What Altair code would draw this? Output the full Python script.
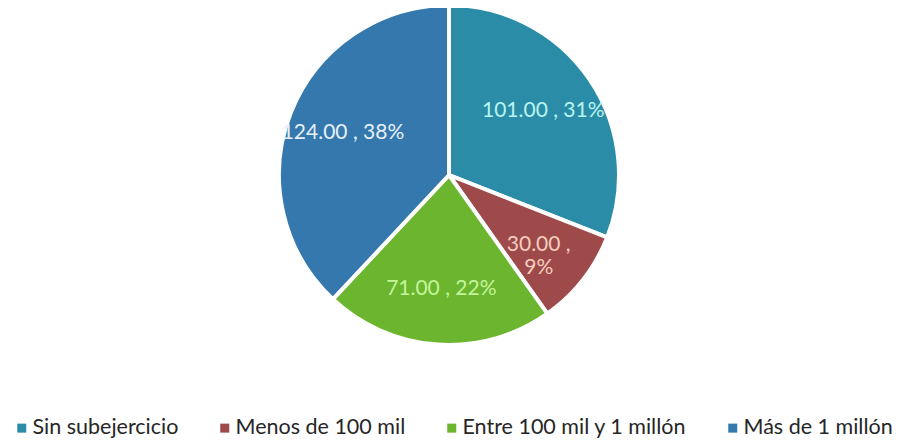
import altair as alt
import pandas as pd

categories = ["Sin subejercicio", "Menos de 100 mil", "Entre 100 mil y 1 millón", "Más de 1 millón"]
values = [101.00, 30.00, 71.00, 124.00]
percents = [31, 9, 22, 38]
slice_colors = ["#2b8ca7", "#9e4a4b", "#6bb52f", "#3478ad"]
label_colors = ["#b8f4f0", "#f6cdbd", "#c4f59a", "#e6f0fa"]

labels = []
for c, v, p in zip(categories, values, percents):
    if c == "Menos de 100 mil":
        labels.append(f"{v:.2f} ,\n{p}%")
    else:
        labels.append(f"{v:.2f} , {p}%")

df = pd.DataFrame({
    "cat": categories,
    "val": values,
    "label": labels,
    "ord": list(range(len(categories))),
})

base = alt.Chart(df).encode(
    theta=alt.Theta("val:Q", stack=True),
    order=alt.Order("ord:Q", sort="ascending"),
)

pie = base.mark_arc(outerRadius=170, stroke="white", strokeWidth=4).encode(
    color=alt.Color(
        "cat:N",
        scale=alt.Scale(domain=categories, range=slice_colors),
        sort=categories,
        legend=alt.Legend(
            title=None,
            orient="none",
            legendX=3,
            legendY=409,
            direction="horizontal",
            symbolType="square",
            symbolSize=81,
            symbolStrokeWidth=0,
            symbolOffset=0,
            labelOffset=0,
            labelFont="Lato",
            labelFontSize=21.5,
            labelColor="#262626",
            columnPadding=35,
            labelLimit=400,
        ),
    ),
)

text = base.mark_text(radius=114, fontSize=21, font="Lato", lineBreak="\n").encode(
    text="label:N",
    color=alt.Color(
        "cat:N",
        scale=alt.Scale(domain=categories, range=label_colors),
        legend=None,
    ),
)

chart = (
    alt.layer(pie, text)
    .resolve_scale(color="independent")
    .properties(
        width=882,
        height=334,
        background="white",
        autosize=alt.AutoSizeParams(type="none"),
        padding={"left": 0, "top": 0, "right": 9, "bottom": 99},
    )
    .configure_view(stroke=None)
)

chart.save("out.html", embed_options={"renderer": "svg", "actions": False})
